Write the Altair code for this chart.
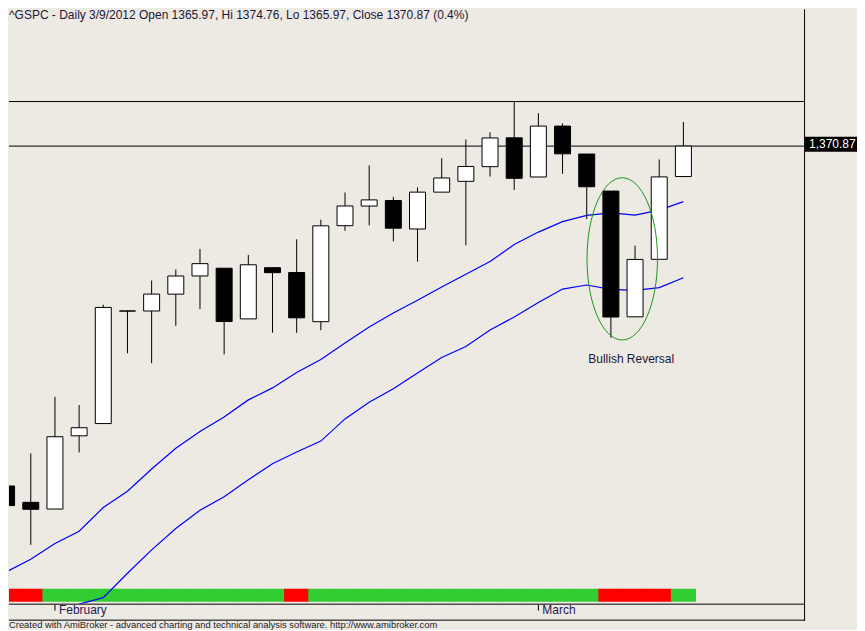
import altair as alt
import pandas as pd

# ---------------- data ----------------
dates = ["1/30", "1/31", "2/1", "2/2", "2/3", "2/6", "2/7", "2/8", "2/9", "2/10",
         "2/13", "2/14", "2/15", "2/16", "2/17", "2/21", "2/22", "2/23", "2/24",
         "2/27", "2/28", "2/29", "3/1", "3/2", "3/5", "3/6", "3/7", "3/8", "3/9"]
open_ = [1316.16, 1313.53, 1312.45, 1324.24, 1326.21, 1344.32, 1344.33, 1347.04,
         1349.97, 1351.21, 1343.06, 1351.30, 1350.52, 1342.61, 1358.06, 1361.22,
         1362.11, 1357.53, 1363.46, 1365.20, 1367.56, 1372.20, 1365.90, 1374.09,
         1369.59, 1363.63, 1343.39, 1352.65, 1365.97]
high = [1316.16, 1321.41, 1330.52, 1329.19, 1345.34, 1344.36, 1349.24, 1351.00,
        1354.32, 1351.21, 1353.35, 1351.30, 1355.87, 1359.02, 1363.40, 1367.76,
        1362.70, 1364.24, 1368.92, 1371.94, 1373.09, 1378.04, 1376.17, 1374.53,
        1369.59, 1363.63, 1354.85, 1368.72, 1374.76]
low = [1300.49, 1306.69, 1312.45, 1321.57, 1326.21, 1337.52, 1335.92, 1341.95,
       1344.63, 1337.35, 1343.06, 1340.83, 1340.80, 1341.22, 1357.24, 1358.11,
       1355.53, 1352.28, 1363.46, 1354.92, 1365.97, 1363.81, 1365.90, 1366.42,
       1359.13, 1340.03, 1343.39, 1352.65, 1365.97]
close = [1313.01, 1312.41, 1324.09, 1325.54, 1344.90, 1344.33, 1347.05, 1349.96,
         1351.95, 1342.64, 1351.77, 1350.50, 1343.23, 1358.04, 1361.23, 1362.21,
         1357.66, 1363.46, 1365.74, 1367.59, 1372.18, 1365.68, 1374.09, 1369.63,
         1364.33, 1343.36, 1352.63, 1365.91, 1370.87]
upper_ma = [1302.36, 1304.37, 1306.91, 1308.88, 1312.70, 1315.31, 1318.89, 1322.22,
            1324.95, 1327.28, 1330.02, 1331.95, 1334.44, 1336.53, 1339.17, 1341.75,
            1344.00, 1346.05, 1348.18, 1350.23, 1352.28, 1355.02, 1357.03, 1358.72,
            1359.73, 1360.13, 1359.76, 1360.56, 1361.93]
lower_ma = [None, None, None, 1297.14, 1298.18, 1302.12, 1305.87, 1309.31,
            1312.25, 1314.42, 1317.16, 1319.73, 1321.63, 1323.39, 1326.96, 1329.65,
            1331.82, 1334.36, 1336.85, 1338.62, 1341.27, 1343.36, 1345.69, 1347.86,
            1348.51, 1347.81, 1347.65, 1348.10, 1349.68]
bar_state = ["red", "red"] + ["green"] * 10 + ["red"] + ["green"] * 12 + ["red"] * 3 + ["green"]
month_idx = [2, 22]
month_names = ["February", "March"]
title_text = "^GSPC - Daily 3/9/2012 Open 1365.97, Hi 1374.76, Lo 1365.97, Close 1370.87 (0.4%)"
footer_text = ("Created with AmiBroker - advanced charting and technical analysis software. "
               "http://www.amibroker.com")
pattern_label = "Bullish Reversal"
pattern_center = (25.47, 1352.72)
pattern_text_pos = (25.84, 1336.61)

# ---------------- styling ----------------
BG = "#EDE9E3"
FONT = "Liberation Sans"
TXT = "#1c1838"
W, H = 797, 595

n = len(close)
idx = list(range(n))
df = pd.DataFrame({"i": idx, "open": open_, "high": high, "low": low,
                   "close": close, "state": bar_state})
df["dir"] = ["down" if c < o else "up" for o, c in zip(open_, close)]

ma_df = pd.DataFrame({"i": idx + idx, "v": upper_ma + lower_ma,
                      "s": ["upper"] * n + ["lower"] * n}).dropna()

XS = alt.Scale(domain=[0.0992, 33.033], nice=False, zero=False, padding=0)
YS = alt.Scale(domain=[1297.22, 1392.88], nice=False, zero=False, padding=0)

X = alt.X("i:Q", scale=XS, axis=None)
base = alt.Chart(df)

cbar = base.transform_calculate(a="datum.i - 0.52", b="datum.i + 0.52").mark_rect(clip=True).encode(
    x=alt.X("a:Q", scale=XS, axis=None), x2="b:Q",
    y=alt.value(580), y2=alt.value(593),
    color=alt.Color("state:N", scale=alt.Scale(domain=["red", "green"], range=["#ff0000", "#32cd32"]),
                    legend=None))

wicks = base.mark_rule(color="black", strokeWidth=1, clip=True).encode(
    x=X, y=alt.Y("low:Q", scale=YS, axis=None), y2="high:Q")

bodies = base.mark_bar(size=16, stroke="black", strokeWidth=1, clip=True).encode(
    x=X, y=alt.Y("open:Q", scale=YS, axis=None), y2="close:Q",
    fill=alt.Fill("dir:N", scale=alt.Scale(domain=["up", "down"], range=["white", "black"]), legend=None))

ma = alt.Chart(ma_df).mark_line(color="#0000ff", strokeWidth=1.2, clip=True).encode(
    x=X, y=alt.Y("v:Q", scale=YS, axis=None), detail="s:N")

levels = alt.Chart(pd.DataFrame({"p": [max(high), close[-1]]})).mark_rule(color="black", strokeWidth=1).encode(
    y=alt.Y("p:Q", scale=YS, axis=None))

lbl_df = pd.DataFrame({"p": [close[-1]], "t": [f"{close[-1]:,.2f}"]})
box = alt.Chart(lbl_df).transform_calculate(top="datum.p + 1.5", bot="datum.p - 0.92").mark_rect(
    color="black").encode(x=alt.value(797), x2=alt.value(849),
                          y=alt.Y("top:Q", scale=YS, axis=None), y2="bot:Q")
box_txt = alt.Chart(lbl_df).mark_text(color="white", align="left", baseline="middle", font=FONT,
                                      fontSize=12, dy=-2).encode(
    x=alt.value(801), y=alt.Y("p:Q", scale=YS, axis=None), text="t:N")

# ellipse annotation (custom symbol path, cubic beziers)
a, k = 0.4347, 0.5523
ka = round(k * a, 4)
ell_path = (f"M 0 -1 C {ka} -1 {a} {-k} {a} 0 C {a} {k} {ka} 1 0 1 "
            f"C {-ka} 1 {-a} {k} {-a} 0 C {-a} {-k} {-ka} -1 0 -1 Z")
ell_df = pd.DataFrame({"i": [pattern_center[0]], "p": [pattern_center[1]]})
ellipse = alt.Chart(ell_df).mark_point(shape=ell_path, size=(2 * 81.2) ** 2, color="#1a961a",
                                       strokeWidth=1, filled=False, opacity=1).encode(
    x=X, y=alt.Y("p:Q", scale=YS, axis=None))

ptxt_df = pd.DataFrame({"i": [pattern_text_pos[0]], "p": [pattern_text_pos[1]], "t": [pattern_label]})
ptxt = alt.Chart(ptxt_df).mark_text(font=FONT, fontSize=12, color=TXT, align="center",
                                    baseline="middle").encode(
    x=X, y=alt.Y("p:Q", scale=YS, axis=None), text="t:N")

# month ticks and labels
mdf = pd.DataFrame({"i": month_idx, "t": month_names})
mticks = alt.Chart(mdf).mark_rule(color="black", strokeWidth=1).encode(
    x=X, y=alt.value(596), y2=alt.value(602))
mlabels = alt.Chart(mdf).mark_text(font=FONT, fontSize=12, color="#261a50", align="left",
                                   baseline="alphabetic", dx=4).encode(
    x=X, y=alt.value(605.5), text="t:N")

# frame lines
frame_df = pd.DataFrame({"k": [0]})
right_border = alt.Chart(frame_df).mark_rule(color="black", strokeWidth=1).encode(
    x=alt.value(796.5), y=alt.value(0), y2=alt.value(612))
bottom1 = alt.Chart(frame_df).mark_rule(color="black", strokeWidth=1).encode(
    x=alt.value(0), x2=alt.value(797), y=alt.value(595.5))
bottom2 = alt.Chart(frame_df).mark_rule(color="black", strokeWidth=1).encode(
    x=alt.value(0), x2=alt.value(797), y=alt.value(611.5))

title = alt.Chart(pd.DataFrame({"t": [title_text]})).mark_text(
    font=FONT, fontSize=12, color=TXT, align="left", baseline="alphabetic").encode(
    x=alt.value(0), y=alt.value(9.5), text="t:N")
footer = alt.Chart(pd.DataFrame({"t": [footer_text]})).mark_text(
    font=FONT, fontSize=9.4, color="#1c1c2c", align="left", baseline="alphabetic").encode(
    x=alt.value(0), y=alt.value(619), text="t:N")

chart = alt.layer(
    cbar, levels, ma, wicks, bodies, ellipse, ptxt, box, box_txt,
    mticks, mlabels, right_border, bottom1, bottom2, title, footer
).properties(
    width=W, height=H, background=BG, padding=0
).configure_view(stroke="transparent", fill=BG)

chart.save("out.html", embed_options={"renderer": "svg", "actions": False})
